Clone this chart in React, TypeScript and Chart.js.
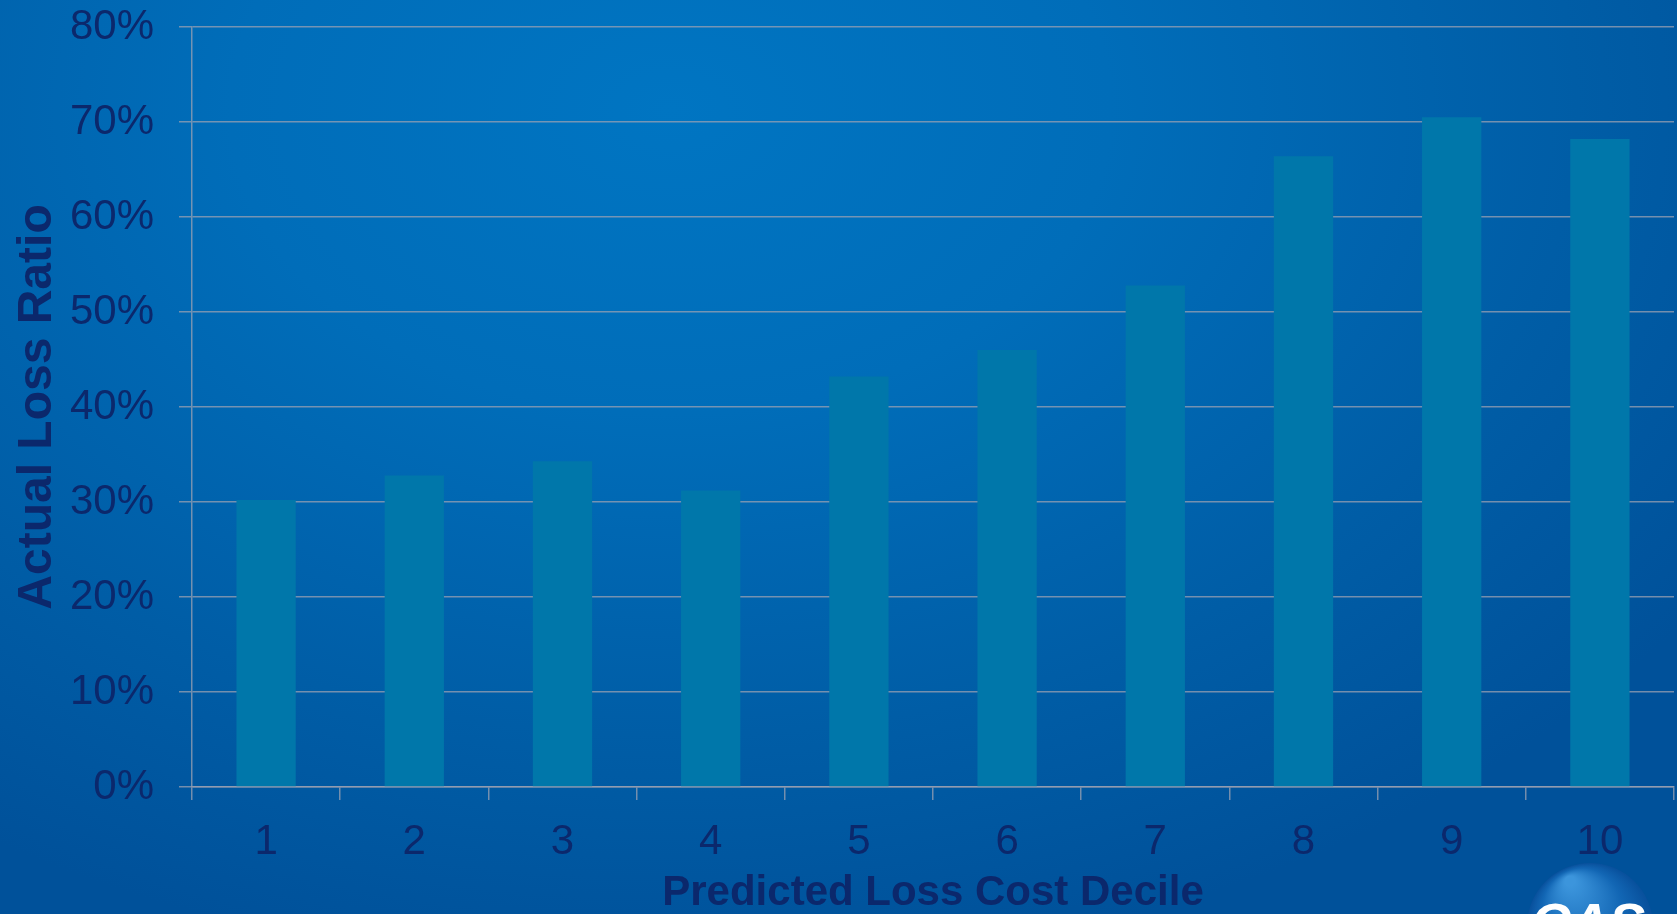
import React, { useEffect, useRef } from "react";
import { Chart, registerables } from "chart.js";

Chart.register(...registerables);

// Decile buckets on the x axis and the actual loss ratio (%) for each
const deciles: string[] = ["1", "2", "3", "4", "5", "6", "7", "8", "9", "10"];
const lossRatio: number[] = [30.2, 32.8, 34.3, 31.2, 43.2, 46.0, 52.8, 66.4, 70.5, 68.2];

const yTitle = "Actual Loss Ratio";
const xTitle = "Predicted Loss Cost Decile";
const logoText = "CAS";

const W = 1677;
const H = 914;
const FONT = "'Liberation Sans', Arial, Helvetica, sans-serif";
const TEXT = "#0B286C";
const GRID = "rgba(155,162,178,0.75)";

// Small round badge peeking in at the lower right corner
const logoPlugin = {
  id: "cornerLogo",
  afterDraw(chart: Chart) {
    const ctx = chart.ctx;
    const cx = 1590;
    const cy = 926;
    const r = 63;
    ctx.save();
    const g = ctx.createRadialGradient(cx - 20, cy - 45, 5, cx, cy, r);
    g.addColorStop(0, "#3C95DC");
    g.addColorStop(0.6, "#1266B4");
    g.addColorStop(1, "#08509C");
    ctx.beginPath();
    ctx.arc(cx, cy, r, 0, Math.PI * 2);
    ctx.fillStyle = g;
    ctx.fill();
    ctx.fillStyle = "#FFFFFF";
    ctx.font = `italic bold 54px ${FONT}`;
    ctx.textAlign = "center";
    ctx.textBaseline = "top";
    ctx.fillText(logoText, cx - 2, 899);
    ctx.restore();
  },
};

export default function App() {
  const ref = useRef<HTMLCanvasElement | null>(null);

  useEffect(() => {
    document.body.style.margin = "0";
    if (!ref.current) return;
    const chart = new Chart(ref.current, {
      type: "bar",
      data: {
        labels: deciles,
        datasets: [
          {
            data: lossRatio,
            backgroundColor: "#0077AA",
            borderWidth: 0,
            barPercentage: 0.4,
            categoryPercentage: 1.0,
          },
        ],
      },
      options: {
        animation: false,
        responsive: false,
        devicePixelRatio: 1,
        layout: { padding: { top: 0, right: 3, bottom: 0, left: 0 } },
        plugins: {
          legend: { display: false },
          tooltip: { enabled: false },
          title: { display: false },
        },
        scales: {
          x: {
            afterFit(scale: any) {
              scale.height = 127;
            },
            grid: {
              offset: true,
              drawOnChartArea: false,
              drawTicks: true,
              tickLength: 13,
              color: GRID,
              lineWidth: 1.5,
            },
            border: { display: true, color: GRID, width: 1.5 },
            ticks: {
              color: TEXT,
              padding: 17,
              font: { family: FONT, size: 42 },
              maxRotation: 0,
            },
            title: {
              display: true,
              text: xTitle,
              color: TEXT,
              font: { family: FONT, size: 42, weight: "bold", lineHeight: 1 },
              padding: { top: 0, bottom: 0 },
            },
          },
          y: {
            min: 0,
            max: 80,
            afterFit(scale: any) {
              scale.width = 192;
              // room above the plot for the top tick label
              scale.paddingTop = 27;
              scale.paddingBottom = 0;
            },
            grid: {
              drawTicks: true,
              tickLength: 13,
              color: GRID,
              lineWidth: 1.5,
            },
            border: { display: true, color: GRID, width: 1.5 },
            ticks: {
              stepSize: 10,
              color: TEXT,
              padding: 25,
              font: { family: FONT, size: 42 },
              callback: (v: any) => `${v}%`,
            },
            title: {
              display: true,
              text: yTitle,
              color: TEXT,
              font: { family: FONT, size: 48, weight: "bold", lineHeight: 1 },
              padding: { top: 14, bottom: 0 },
            },
          },
        },
      },
      plugins: [logoPlugin],
    });
    return () => chart.destroy();
  }, []);

  return (
    <div
      style={{
        position: "fixed",
        left: 0,
        top: 0,
        width: W,
        height: H,
        overflow: "hidden",
        background:
          "radial-gradient(ellipse 75% 95% at 40% 12%, #0075C2 0%, #006DB9 35%, #005DA6 72%, #00519A 100%)",
      }}
    >
      <canvas ref={ref} width={W} height={H} style={{ display: "block" }} />
    </div>
  );
}
